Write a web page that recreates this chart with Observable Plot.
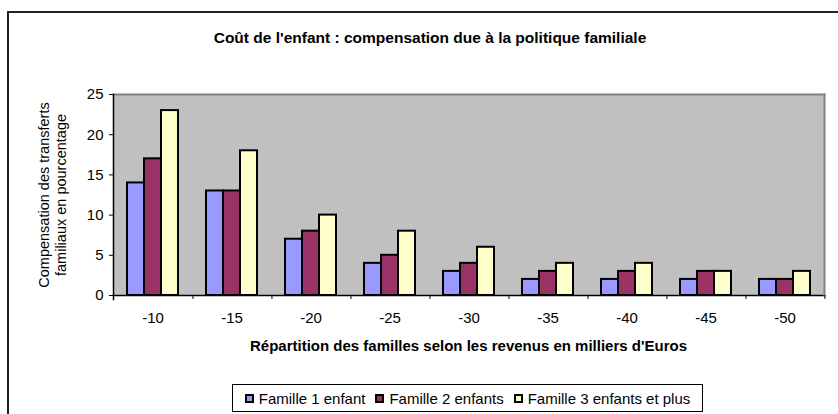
<!DOCTYPE html>
<html>
<head>
<meta charset="utf-8">
<script src="https://cdn.jsdelivr.net/npm/d3@7"></script>
<script src="https://cdn.jsdelivr.net/npm/@observablehq/plot@0.6"></script>
<style>
  html, body { margin: 0; padding: 0; background: #fff; }
  #wrap { position: relative; width: 838px; height: 414px; overflow: hidden; font-family: "Liberation Sans", Arial, sans-serif; color: #000; }
  #border { position: absolute; left: 7px; top: 11px; width: 900px; height: 500px; border-left: 2px solid #222; border-top: 2px solid #222; }
  #title { position: absolute; left: 8px; width: 844px; top: 29px; text-align: center; font-weight: bold; font-size: 15.5px; line-height: 18px; }
  #xtitle { position: absolute; left: 109px; width: 719px; top: 337px; text-align: center; font-weight: bold; font-size: 15px; line-height: 18px; white-space: nowrap; }
  #ytitle { position: absolute; left: -47px; top: 178px; width: 200px; height: 34px; text-align: center; font-size: 14.5px; line-height: 17px; transform: rotate(-90deg); transform-origin: 50% 50%; white-space: nowrap; }
  #chart { position: absolute; left: 0; top: 0; }
  #legend { position: absolute; left: 232px; top: 384px; width: 469px; height: 26px; border: 1px solid #000; display: flex; align-items: center; justify-content: center; font-size: 15px; background: #fff; white-space: nowrap; }
  .item { display: flex; align-items: center; margin: 0 5px; }
  .sw { display: inline-block; width: 5px; height: 5px; border: 2px solid #000; margin-right: 5px; }
</style>
</head>
<body>
<div id="wrap">
  <div id="border"></div>
  <div id="chart"></div>
  <div id="title"></div>
  <div id="xtitle"></div>
  <div id="ytitle"></div>
  <div id="legend"></div>
</div>
<script>
const titleText = "Coût de l'enfant : compensation due à la politique familiale";
const xTitleText = "Répartition des familles selon les revenus en milliers d'Euros";
const yTitleLines = ["Compensation des transferts", "familiaux en pourcentage"];

const categories = ["-10", "-15", "-20", "-25", "-30", "-35", "-40", "-45", "-50"];
const series = ["Famille 1 enfant", "Famille 2 enfants", "Famille 3 enfants et plus"];
const famille1 = [14, 13, 7, 4, 3, 2, 2, 2, 2];
const famille2 = [17, 13, 8, 5, 4, 3, 3, 3, 2];
const famille3 = [23, 18, 10, 8, 6, 4, 4, 3, 3];
const yTicks = [0, 5, 10, 15, 20, 25];
const colors = ["#9999FF", "#993366", "#FFFFCC"];

const values = [famille1, famille2, famille3];
const rows = [];
categories.forEach((c, i) => series.forEach((s, j) => rows.push({cat: c, serie: s, value: values[j][i]})));

const W = 838, H = 360, ml = 109, mr = 10, mt = 94, mb = 65;
const step = (W - ml - mr) / categories.length;

const plot = Plot.plot({
  width: W, height: H,
  marginLeft: ml, marginRight: mr, marginTop: mt, marginBottom: mb,
  style: {fontFamily: "'Liberation Sans', Arial, sans-serif", fontSize: "15px", color: "#000", background: "transparent", overflow: "visible"},
  fx: {domain: categories, padding: 0, axis: null},
  x: {domain: series, paddingInner: 0, paddingOuter: 0.72, axis: null},
  y: {domain: [0, 25], axis: null},
  color: {domain: series, range: colors},
  marks: [
    Plot.frame({facet: "super", fill: "#C0C0C0", stroke: null}),
    Plot.barY(rows, {fx: "cat", x: "serie", y: "value", fill: "serie", stroke: "#000", strokeWidth: 2}),
    Plot.frame({facet: "super", anchor: "top", stroke: "#808080", strokeWidth: 2}),
    Plot.frame({facet: "super", anchor: "bottom", stroke: "#000", strokeWidth: 1.5}),
    Plot.frame({facet: "super", anchor: "right", stroke: "#808080", strokeWidth: 2}),
    Plot.frame({facet: "super", anchor: "left", stroke: "#000", strokeWidth: 1.5, insetBottom: -4}),
    Plot.axisY({ticks: yTicks, tickSize: 4, tickPadding: 6, label: null, tickFormat: d => String(d)}),
    Plot.axisFx({anchor: "bottom", tickSize: 0, tickPadding: 17, label: null}),
    Plot.axisFx({anchor: "bottom", tickSize: 4, text: null, label: null, dx: step / 2})
  ]
});
document.getElementById("chart").appendChild(plot);

document.getElementById("title").textContent = titleText;
document.getElementById("xtitle").textContent = xTitleText;
document.getElementById("ytitle").innerHTML = yTitleLines.map(l => `<div>${l}</div>`).join("");

const legend = document.getElementById("legend");
series.forEach((s, i) => {
  const item = document.createElement("span");
  item.className = "item";
  const sw = document.createElement("span");
  sw.className = "sw";
  sw.style.background = colors[i];
  item.appendChild(sw);
  item.appendChild(document.createTextNode(s));
  legend.appendChild(item);
});
</script>
</body>
</html>
